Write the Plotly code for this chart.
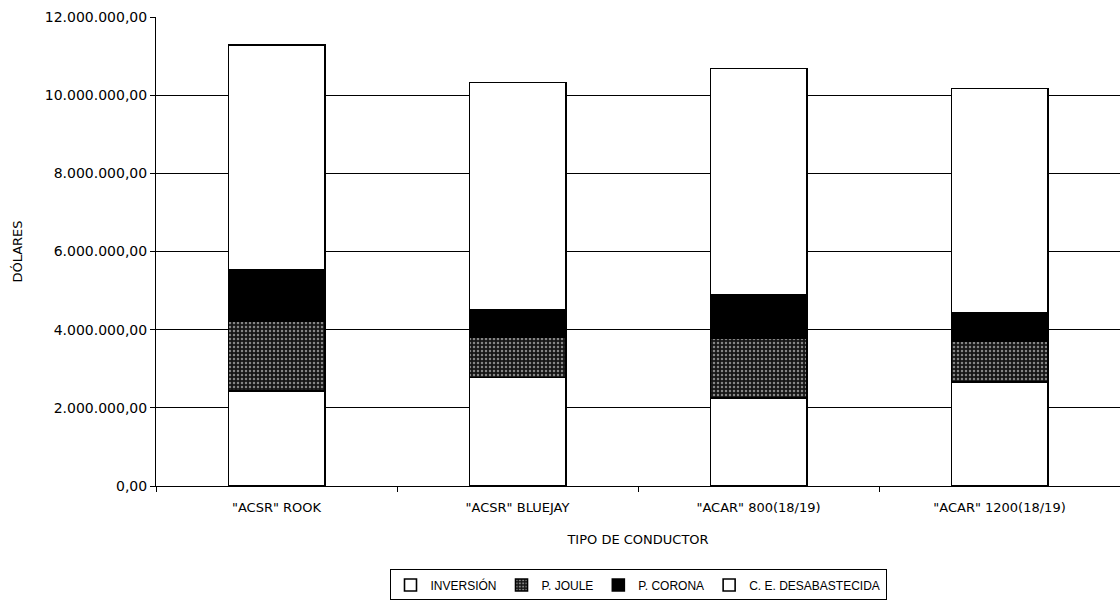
import plotly.graph_objects as go

# Conductor types on the x axis
conductores = ['"ACSR" ROOK', '"ACSR" BLUEJAY', '"ACAR" 800(18/19)', '"ACAR" 1200(18/19)']

# Cost components per conductor (USD)
inversion = [2430000, 2780000, 2250000, 2660000]
p_joule = [1780000, 1030000, 1530000, 1040000]
p_corona = [1310000, 710000, 1120000, 740000]
ce_desabastecida = [5770000, 5800000, 5780000, 5730000]

# Axis ticks
y_ticks = [0, 2000000, 4000000, 6000000, 8000000, 10000000, 12000000]
y_tick_labels = ["0,00", "2.000.000,00", "4.000.000,00", "6.000.000,00",
                 "8.000.000,00", "10.000.000,00", "12.000.000,00"]

FONT = "DejaVu Sans"
outline = dict(color="black", width=1.6)

fig = go.Figure()
fig.add_trace(go.Bar(name="INVERSIÓN", x=conductores, y=inversion,
                     marker=dict(color="white", line=outline)))
fig.add_trace(go.Bar(name="P. JOULE", x=conductores, y=p_joule,
                     marker=dict(color="#1a1a1a", line=outline,
                                 pattern=dict(shape=".", bgcolor="#161616",
                                              fgcolor="#f4f4f4", size=4,
                                              solidity=0.3))))
fig.add_trace(go.Bar(name="P. CORONA", x=conductores, y=p_corona,
                     marker=dict(color="black", line=outline)))
fig.add_trace(go.Bar(name="C. E. DESABASTECIDA", x=conductores, y=ce_desabastecida,
                     marker=dict(color="white", line=outline)))

fig.update_layout(
    barmode="stack",
    bargap=0.6,
    width=1120, height=600,
    margin=dict(l=156, r=0, t=17, b=114, autoexpand=False),
    plot_bgcolor="white", paper_bgcolor="white",
    font=dict(family=FONT, size=13, color="black"),
    showlegend=True,
    legend=dict(orientation="h", x=0.5, xanchor="center", y=-0.178, yanchor="top",
                bordercolor="black", borderwidth=1,
                font=dict(family="Liberation Sans", size=12),
                traceorder="normal", itemwidth=30),
)
fig.update_xaxes(
    automargin=False,
    showline=True, linecolor="black", linewidth=1,
    ticks="outside", tickson="boundaries", ticklen=5, tickcolor="black",
    tickfont=dict(size=13), ticklabelstandoff=9,
    title=dict(text="TIPO DE CONDUCTOR", font=dict(size=13), standoff=21),
    showgrid=False,
)
fig.update_yaxes(
    automargin=False,
    range=[0, 12000000],
    tickvals=y_ticks, ticktext=y_tick_labels,
    showline=True, linecolor="black", linewidth=1,
    ticks="outside", ticklen=5, tickcolor="black",
    tickfont=dict(size=14),
    showgrid=True, gridcolor="black", gridwidth=1,
    zeroline=False,
    title=dict(text="DÓLARES", font=dict(size=13), standoff=19),
)

fig.write_html("out.html")
